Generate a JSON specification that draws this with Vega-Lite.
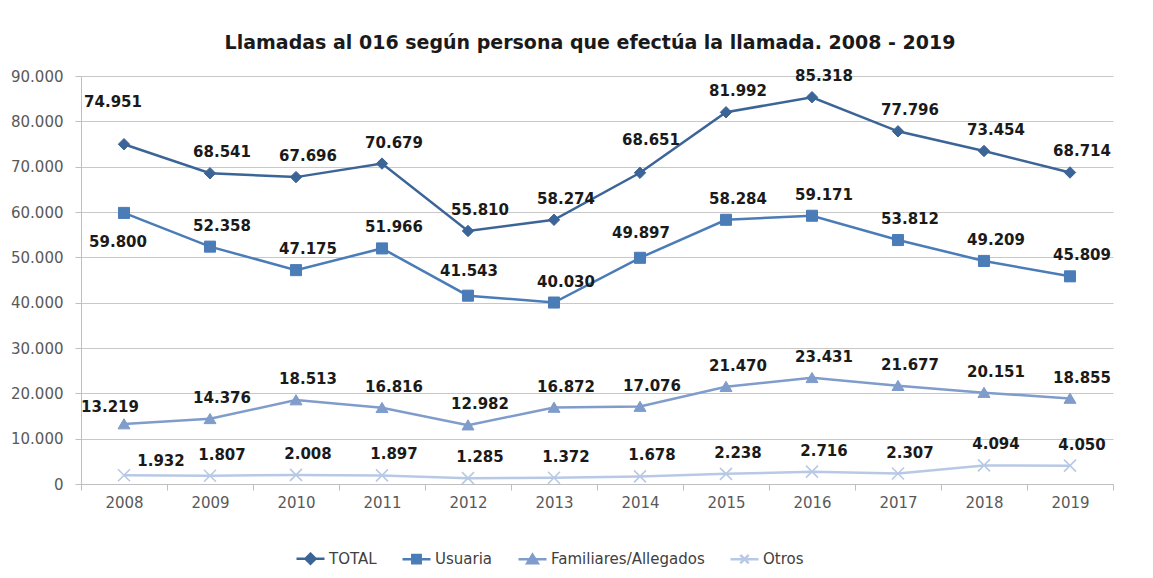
{
  "$schema": "https://vega.github.io/schema/vega-lite/v6.json",
  "width": 1032,
  "height": 408,
  "autosize": "none",
  "padding": {"left": 81, "top": 76, "right": 40, "bottom": 94},
  "background": "white",
  "config": {
    "locale": {"number": {"decimal": ",", "thousands": ".", "grouping": [3], "currency": ["", " €"]}},
    "view": {"stroke": null},
    "font": "DejaVu Sans"
  },
  "title": {
    "text": "Llamadas al 016 según persona que efectúa la llamada. 2008 - 2019",
    "font": "DejaVu Sans",
    "fontSize": 19,
    "fontWeight": "bold",
    "color": "#1a1a1a",
    "anchor": "middle",
    "dx": -7,
    "offset": 16
  },
  "data": {
    "values": [
      {"year": 2008, "series": "TOTAL", "value": 74951},
      {"year": 2009, "series": "TOTAL", "value": 68541},
      {"year": 2010, "series": "TOTAL", "value": 67696},
      {"year": 2011, "series": "TOTAL", "value": 70679},
      {"year": 2012, "series": "TOTAL", "value": 55810},
      {"year": 2013, "series": "TOTAL", "value": 58274},
      {"year": 2014, "series": "TOTAL", "value": 68651},
      {"year": 2015, "series": "TOTAL", "value": 81992},
      {"year": 2016, "series": "TOTAL", "value": 85318},
      {"year": 2017, "series": "TOTAL", "value": 77796},
      {"year": 2018, "series": "TOTAL", "value": 73454},
      {"year": 2019, "series": "TOTAL", "value": 68714},
      {"year": 2008, "series": "Usuaria", "value": 59800},
      {"year": 2009, "series": "Usuaria", "value": 52358},
      {"year": 2010, "series": "Usuaria", "value": 47175},
      {"year": 2011, "series": "Usuaria", "value": 51966},
      {"year": 2012, "series": "Usuaria", "value": 41543},
      {"year": 2013, "series": "Usuaria", "value": 40030},
      {"year": 2014, "series": "Usuaria", "value": 49897},
      {"year": 2015, "series": "Usuaria", "value": 58284},
      {"year": 2016, "series": "Usuaria", "value": 59171},
      {"year": 2017, "series": "Usuaria", "value": 53812},
      {"year": 2018, "series": "Usuaria", "value": 49209},
      {"year": 2019, "series": "Usuaria", "value": 45809},
      {"year": 2008, "series": "Familiares/Allegados", "value": 13219},
      {"year": 2009, "series": "Familiares/Allegados", "value": 14376},
      {"year": 2010, "series": "Familiares/Allegados", "value": 18513},
      {"year": 2011, "series": "Familiares/Allegados", "value": 16816},
      {"year": 2012, "series": "Familiares/Allegados", "value": 12982},
      {"year": 2013, "series": "Familiares/Allegados", "value": 16872},
      {"year": 2014, "series": "Familiares/Allegados", "value": 17076},
      {"year": 2015, "series": "Familiares/Allegados", "value": 21470},
      {"year": 2016, "series": "Familiares/Allegados", "value": 23431},
      {"year": 2017, "series": "Familiares/Allegados", "value": 21677},
      {"year": 2018, "series": "Familiares/Allegados", "value": 20151},
      {"year": 2019, "series": "Familiares/Allegados", "value": 18855},
      {"year": 2008, "series": "Otros", "value": 1932},
      {"year": 2009, "series": "Otros", "value": 1807},
      {"year": 2010, "series": "Otros", "value": 2008},
      {"year": 2011, "series": "Otros", "value": 1897},
      {"year": 2012, "series": "Otros", "value": 1285},
      {"year": 2013, "series": "Otros", "value": 1372},
      {"year": 2014, "series": "Otros", "value": 1678},
      {"year": 2015, "series": "Otros", "value": 2238},
      {"year": 2016, "series": "Otros", "value": 2716},
      {"year": 2017, "series": "Otros", "value": 2307},
      {"year": 2018, "series": "Otros", "value": 4094},
      {"year": 2019, "series": "Otros", "value": 4050}
    ]
  },
  "resolve": {"axis": {"x": "independent", "y": "independent"}},
  "layer": [
    {
      "mark": {"type": "line", "strokeWidth": 2.5},
      "encoding": {
        "x": {
          "field": "year", "type": "quantitative",
          "scale": {"domain": [2007.5, 2019.5], "nice": false, "zero": false},
          "axis": {
            "orient": "bottom", "title": null, "values": [2008, 2009, 2010, 2011, 2012, 2013, 2014, 2015, 2016, 2017, 2018, 2019],
            "format": "d", "ticks": false, "grid": false, "domain": true, "domainColor": "#BFBFBF", "domainWidth": 1,
            "labelFont": "DejaVu Sans", "labelFontSize": 15, "labelColor": "#595959", "labelPadding": 11, "labelFlush": false
          }
        },
        "y": {
          "field": "value", "type": "quantitative",
          "scale": {"domain": [0, 90000], "nice": false},
          "axis": {
            "orient": "left", "title": null, "values": [0, 10000, 20000, 30000, 40000, 50000, 60000, 70000, 80000, 90000],
            "format": ",d", "grid": true, "gridColor": "#C8C8C8", "gridWidth": 1,
            "domain": true, "domainColor": "#BFBFBF", "ticks": true, "tickSize": 6, "tickColor": "#BFBFBF",
            "labelFont": "DejaVu Sans", "labelFontSize": 15, "labelColor": "#595959", "labelPadding": 12
          }
        },
        "color": {
          "field": "series", "type": "nominal",
          "scale": {"domain": ["TOTAL", "Usuaria", "Familiares/Allegados", "Otros"], "range": ["#3B6497", "#4A7CB8", "#7F9CCB", "#B8C9E5"]},
          "legend": {
            "orient": "none", "legendX": 214, "legendY": 467, "direction": "horizontal", "columns": 4,
            "title": null, "labelFont": "DejaVu Sans", "labelFontSize": 15, "labelColor": "#404040",
            "symbolSize": 784, "symbolStrokeWidth": 2.5, "columnPadding": 20, "labelOffset": 3,
            "encode": {
              "symbols": {
                "update": {
                  "shape": {"signal": "datum.value === 'TOTAL' ? 'M-1,0H1M0,-0.36L0.36,0L0,0.36L-0.36,0Z' : datum.value === 'Usuaria' ? 'M-1,0H1M-0.3,-0.3H0.3V0.3H-0.3Z' : datum.value === 'Otros' ? 'M-1,0H1M-0.3,-0.3L0.3,0.3M-0.3,0.3L0.3,-0.3' : 'M-1,0H1M0,-0.34L0.38,0.28H-0.38Z'"},
                  "fill": {"signal": "scale('color', datum.value)"},
                  "stroke": {"signal": "scale('color', datum.value)"},
                  "strokeWidth": {"value": 2.5},
                  "opacity": {"value": 1}
                }
              }
            }
          }
        }
      }
    },
    {
      "mark": {"type": "point", "filled": true, "size": 0, "opacity": 0},
      "encoding": {
        "x": {
          "field": "year", "type": "quantitative",
          "axis": {
            "orient": "bottom", "title": null, "values": [2007.5, 2008.5, 2009.5, 2010.5, 2011.5, 2012.5, 2013.5, 2014.5, 2015.5, 2016.5, 2017.5, 2018.5, 2019.5],
            "labels": false, "ticks": true, "tickSize": 6, "tickColor": "#BFBFBF", "domain": false, "grid": false
          }
        },
        "y": {"field": "value", "type": "quantitative", "axis": null}
      }
    },
    {
      "transform": [{"filter": "datum.series === 'TOTAL'"}],
      "mark": {"type": "point", "filled": true, "shape": "M0,-0.95L0.95,0L0,0.95L-0.95,0Z", "size": 144, "fill": "#3B6497", "stroke": "#3B6497", "strokeWidth": 1, "opacity": 1},
      "encoding": {
        "x": {"field": "year", "type": "quantitative", "axis": null},
        "y": {"field": "value", "type": "quantitative", "axis": null}
      }
    },
    {
      "transform": [{"filter": "datum.series === 'Usuaria'"}],
      "mark": {"type": "point", "filled": true, "shape": "M-0.92,-0.92H0.92V0.92H-0.92Z", "size": 144, "fill": "#4A7CB8", "stroke": "#4A7CB8", "strokeWidth": 1, "opacity": 1},
      "encoding": {
        "x": {"field": "year", "type": "quantitative", "axis": null},
        "y": {"field": "value", "type": "quantitative", "axis": null}
      }
    },
    {
      "transform": [{"filter": "datum.series === 'Familiares/Allegados'"}],
      "mark": {"type": "point", "filled": true, "shape": "M0,-0.9L1,0.8H-1Z", "size": 144, "fill": "#7F9CCB", "stroke": "#7F9CCB", "strokeWidth": 1, "opacity": 1},
      "encoding": {
        "x": {"field": "year", "type": "quantitative", "axis": null},
        "y": {"field": "value", "type": "quantitative", "axis": null}
      }
    },
    {
      "transform": [{"filter": "datum.series === 'Otros'"}],
      "mark": {"type": "point", "filled": false, "shape": "M-1,-1L1,1M-1,1L1,-1", "size": 144, "stroke": "#B8C9E5", "strokeWidth": 1.6, "opacity": 1},
      "encoding": {
        "x": {"field": "year", "type": "quantitative", "axis": null},
        "y": {"field": "value", "type": "quantitative", "axis": null}
      }
    },
    {
      "transform": [{"filter": "!(datum.year === 2008 || (datum.series === 'TOTAL' && datum.year === 2014) || (datum.series === 'Usuaria' && (datum.year === 2012 || datum.year === 2014)))"}],
      "mark": {"type": "text", "dx": 12, "dy": -21, "font": "DejaVu Sans", "fontSize": 15, "fontWeight": "bold", "color": "#1a1a1a", "align": "center", "baseline": "middle"},
      "encoding": {
        "x": {"field": "year", "type": "quantitative", "axis": null},
        "y": {"field": "value", "type": "quantitative", "axis": null},
        "text": {"field": "value", "type": "quantitative", "format": ",d"}
      }
    },
    {
      "transform": [{"filter": "datum.year === 2008 && datum.series === 'TOTAL'"}],
      "mark": {"type": "text", "dx": -11, "dy": -42, "font": "DejaVu Sans", "fontSize": 15, "fontWeight": "bold", "color": "#1a1a1a", "align": "center", "baseline": "middle"},
      "encoding": {
        "x": {"field": "year", "type": "quantitative", "axis": null},
        "y": {"field": "value", "type": "quantitative", "axis": null},
        "text": {"field": "value", "type": "quantitative", "format": ",d"}
      }
    },
    {
      "transform": [{"filter": "datum.year === 2008 && datum.series === 'Usuaria'"}],
      "mark": {"type": "text", "dx": -6, "dy": 29, "font": "DejaVu Sans", "fontSize": 15, "fontWeight": "bold", "color": "#1a1a1a", "align": "center", "baseline": "middle"},
      "encoding": {
        "x": {"field": "year", "type": "quantitative", "axis": null},
        "y": {"field": "value", "type": "quantitative", "axis": null},
        "text": {"field": "value", "type": "quantitative", "format": ",d"}
      }
    },
    {
      "transform": [{"filter": "datum.year === 2008 && datum.series === 'Familiares/Allegados'"}],
      "mark": {"type": "text", "dx": -14, "dy": -17, "font": "DejaVu Sans", "fontSize": 15, "fontWeight": "bold", "color": "#1a1a1a", "align": "center", "baseline": "middle"},
      "encoding": {
        "x": {"field": "year", "type": "quantitative", "axis": null},
        "y": {"field": "value", "type": "quantitative", "axis": null},
        "text": {"field": "value", "type": "quantitative", "format": ",d"}
      }
    },
    {
      "transform": [{"filter": "datum.year === 2008 && datum.series === 'Otros'"}],
      "mark": {"type": "text", "dx": 37, "dy": -14, "font": "DejaVu Sans", "fontSize": 15, "fontWeight": "bold", "color": "#1a1a1a", "align": "center", "baseline": "middle"},
      "encoding": {
        "x": {"field": "year", "type": "quantitative", "axis": null},
        "y": {"field": "value", "type": "quantitative", "axis": null},
        "text": {"field": "value", "type": "quantitative", "format": ",d"}
      }
    },
    {
      "transform": [{"filter": "datum.year === 2014 && datum.series === 'TOTAL'"}],
      "mark": {"type": "text", "dx": 11, "dy": -33, "font": "DejaVu Sans", "fontSize": 15, "fontWeight": "bold", "color": "#1a1a1a", "align": "center", "baseline": "middle"},
      "encoding": {
        "x": {"field": "year", "type": "quantitative", "axis": null},
        "y": {"field": "value", "type": "quantitative", "axis": null},
        "text": {"field": "value", "type": "quantitative", "format": ",d"}
      }
    },
    {
      "transform": [{"filter": "datum.series === 'Usuaria' && (datum.year === 2012 || datum.year === 2014)"}],
      "mark": {"type": "text", "dx": 1, "dy": -25, "font": "DejaVu Sans", "fontSize": 15, "fontWeight": "bold", "color": "#1a1a1a", "align": "center", "baseline": "middle"},
      "encoding": {
        "x": {"field": "year", "type": "quantitative", "axis": null},
        "y": {"field": "value", "type": "quantitative", "axis": null},
        "text": {"field": "value", "type": "quantitative", "format": ",d"}
      }
    }
  ]
}
